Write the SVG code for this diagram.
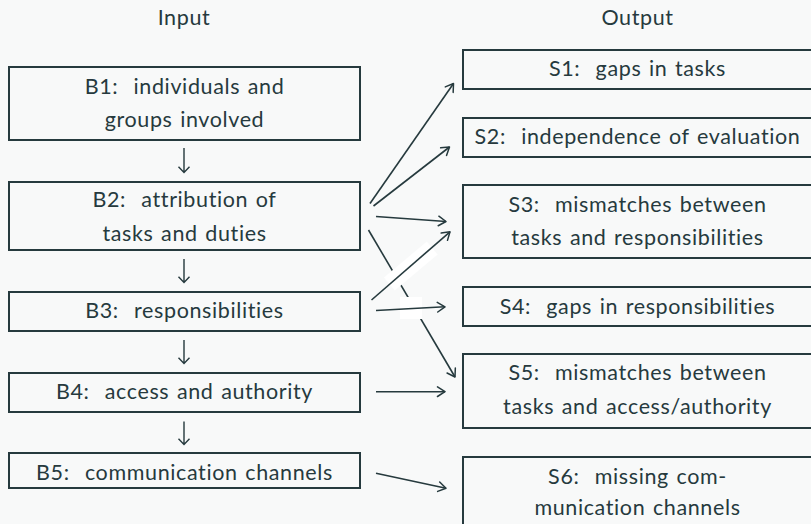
<svg xmlns="http://www.w3.org/2000/svg" width="811" height="524" viewBox="0 0 811 524">
  <style>
    .bg { fill: #f8f9f9; }
    .box { fill: none; stroke: #263a3e; stroke-width: 2; }
    .lbl { font-family: "Lato", "Liberation Sans", sans-serif; font-size: 21.5px; fill: #263a3e; text-anchor: middle; letter-spacing: 0.62px; word-spacing: 1.5px; white-space: pre; }
    .edge { fill: none; stroke: #263a3e; stroke-width: 1.6; marker-end: url(#tip); }
    .down { fill: none; stroke: #263a3e; stroke-width: 1.4; }
    .mask { fill: #ffffff; }
  </style>
  <defs>
    <marker id="tip" markerUnits="userSpaceOnUse" markerWidth="12" markerHeight="12" viewBox="-10 -6 12 12" refX="0" refY="0" orient="auto">
      <path d="M-7.5,-4.8 L0,0 L-7.5,4.8" fill="none" stroke="#263a3e" stroke-width="1.5" stroke-linecap="round" stroke-linejoin="round"/>
    </marker>
  </defs>

  <rect class="bg" x="0" y="0" width="811" height="524"/>

  <!-- column headings -->
  <text class="lbl" x="184" y="25">Input</text>
  <text class="lbl" x="637.5" y="25">Output</text>

  <!-- input blocks -->
  <g id="B1">
    <rect class="box" x="9" y="67" width="351" height="73"/>
    <text class="lbl" x="184.5" y="93.5">B1:  individuals and</text>
    <text class="lbl" x="184.5" y="127">groups involved</text>
  </g>
  <g id="B2">
    <rect class="box" x="9" y="182" width="351" height="68"/>
    <text class="lbl" x="184.5" y="207">B2:  attribution of</text>
    <text class="lbl" x="184.5" y="241">tasks and duties</text>
  </g>
  <g id="B3">
    <rect class="box" x="9" y="292" width="351" height="39"/>
    <text class="lbl" x="184.5" y="317.5">B3:  responsibilities</text>
  </g>
  <g id="B4">
    <rect class="box" x="9" y="373" width="351" height="39"/>
    <text class="lbl" x="184.5" y="398.5">B4:  access and authority</text>
  </g>
  <g id="B5">
    <rect class="box" x="9" y="453" width="351" height="35"/>
    <text class="lbl" x="184.5" y="479.5">B5:  communication channels</text>
  </g>

  <!-- output findings -->
  <g id="S1">
    <rect class="box" x="463" y="50" width="352" height="39"/>
    <text class="lbl" x="637.5" y="76">S1:  gaps in tasks</text>
  </g>
  <g id="S2">
    <rect class="box" x="463" y="118" width="352" height="39"/>
    <text class="lbl" x="637.5" y="143.5">S2:  independence of evaluation</text>
  </g>
  <g id="S3">
    <rect class="box" x="463" y="185" width="352" height="73"/>
    <text class="lbl" x="637.5" y="211.5">S3:  mismatches between</text>
    <text class="lbl" x="637.5" y="245">tasks and responsibilities</text>
  </g>
  <g id="S4">
    <rect class="box" x="463" y="287" width="352" height="39"/>
    <text class="lbl" x="637.5" y="313.5">S4:  gaps in responsibilities</text>
  </g>
  <g id="S5">
    <rect class="box" x="463" y="354" width="352" height="74"/>
    <text class="lbl" x="637.5" y="380">S5:  mismatches between</text>
    <text class="lbl" x="637.5" y="413.5">tasks and access/authority</text>
  </g>
  <g id="S6">
    <rect class="box" x="463" y="457" width="352" height="75"/>
    <text class="lbl" x="637.5" y="483.5">S6:  missing com-</text>
    <text class="lbl" x="637.5" y="515">munication channels</text>
  </g>

  <!-- connectors -->
  <g id="connectors">
    <!-- downward chain between input blocks -->
    <path class="down" d="M184,148 V172.5 M178.5,166.8 L184,172.5 L189.5,166.8"/>
    <path class="down" d="M184,259 V282.5 M178.5,276.8 L184,282.5 L189.5,276.8"/>
    <path class="down" d="M184,340 V363.5 M178.5,357.8 L184,363.5 L189.5,357.8"/>
    <path class="down" d="M184,421.5 V444.5 M178.5,438.8 L184,444.5 L189.5,438.8"/>

    <!-- B2 to S5, passing under the crossings -->
    <path class="edge" d="M368.5,230 L455,377"/>
    <rect class="mask" x="-28" y="-8.5" width="56" height="17" transform="translate(410.8,266) rotate(-40)"/>
    <rect class="mask" x="400" y="297" width="22" height="22"/>

    <path class="edge" d="M370,203.5 L453.5,83.5"/>
    <path class="edge" d="M373.5,206 L449.5,147"/>
    <path class="edge" d="M376,216.5 L446,221.5"/>
    <path class="edge" d="M371.5,300 L450,231.8"/>
    <path class="edge" d="M376,310.5 L445,306.8"/>
    <path class="edge" d="M376,391.7 L445,391.7"/>
    <path class="edge" d="M376,473.3 L446,488.3"/>
  </g>
</svg>
